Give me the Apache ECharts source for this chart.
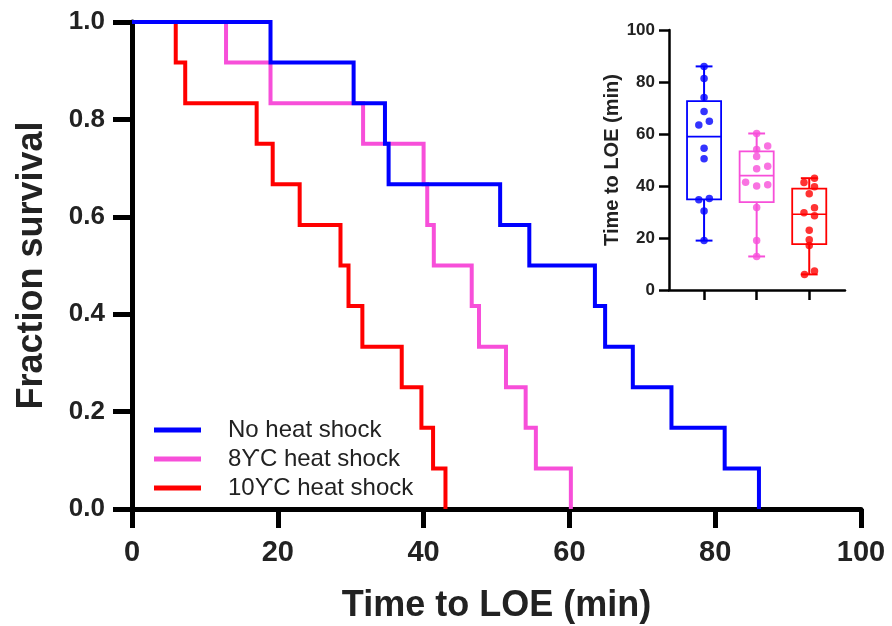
<!DOCTYPE html>
<html>
<head>
<meta charset="utf-8">
<script src="https://cdn.jsdelivr.net/npm/echarts@6/dist/echarts.min.js"></script>
<style>html,body{margin:0;padding:0;background:#fff;}#chart{width:892px;height:626px;}</style>
</head>
<body>
<div id="chart"></div>
<script>
// ---- data (minutes to loss of equilibrium, per animal) ----
const groupNames = ['No heat shock', '8\u03D2C heat shock', '10\u03D2C heat shock'];
const timesNoShock = [19.0, 30.4, 34.7, 35.2, 50.5, 54.5, 63.5, 64.9, 68.7, 74.0, 81.3, 86.0];
const times8C      = [12.9, 19.0, 31.7, 40.0, 40.5, 41.4, 46.6, 47.6, 51.3, 54.0, 55.4, 60.2];
const times10C     = [6.0, 7.3, 17.1, 19.3, 23.0, 28.6, 29.7, 31.6, 37.0, 39.7, 41.3, 43.0];
// horizontal jitter of the inset dots (category units), same order as the times
const jitterNoShock = [0, 0, -0.1, 0.1, 0, 0, -0.1, 0.1, 0, 0, 0, 0];
const jitter8C      = [0, 0, 0, 0, 0.21, -0.21, 0, 0.21, 0, 0, 0.21, 0];
const jitter10C     = [-0.09, 0.1, 0, 0, 0, 0.1, -0.1, 0.1, 0, 0.1, -0.1, 0.1];
const groupColors = ['#0000ff', '#f74fd9', '#ff0000'];

const groups = [timesNoShock, times8C, times10C];
const jitters = [jitterNoShock, jitter8C, jitter10C];
const FONT = 'Liberation Sans, Arial, Helvetica, sans-serif';

function survivalSteps(times) {
  const n = times.length;
  const s = times.slice().sort((a, b) => a - b);
  const pts = [[0, 1]];
  s.forEach((t, i) => pts.push([t, (n - i - 1) / n]));
  return pts;
}
function pct(sorted, p) {
  const r = p * (sorted.length + 1);
  const lo = Math.floor(r), f = r - lo;
  if (lo < 1) return sorted[0];
  if (lo >= sorted.length) return sorted[sorted.length - 1];
  return sorted[lo - 1] + f * (sorted[lo] - sorted[lo - 1]);
}
const boxData = groups.map((g, i) => {
  const s = g.slice().sort((a, b) => a - b);
  return [i + 1, s[0], pct(s, 0.25), pct(s, 0.5), pct(s, 0.75), s[s.length - 1]];
});

const chart = echarts.init(document.getElementById('chart'), null, {renderer: 'canvas'});

const lineSeries = [2, 1, 0].map(i => ({
  name: groupNames[i],
  type: 'line',
  step: 'end',
  xAxisIndex: 0, yAxisIndex: 0,
  data: survivalSteps(groups[i]),
  showSymbol: false,
  clip: false,
  color: groupColors[i],
  lineStyle: {width: 4, color: groupColors[i], join: 'miter'},
  z: 3 + (2 - i)
}));

const scatterSeries = groups.map((g, i) => ({
  type: 'scatter',
  xAxisIndex: 1, yAxisIndex: 1,
  data: g.map((v, k) => [i + 1 + jitters[i][k], v]),
  symbolSize: 7.5,
  itemStyle: {color: groupColors[i]},
  z: 6
}));

const boxSeries = {
  type: 'custom',
  xAxisIndex: 1, yAxisIndex: 1,
  data: boxData,
  encode: {x: 0, y: [1, 2, 3, 4, 5]},
  z: 5,
  renderItem: function (params, api) {
    const x = api.value(0);
    const mn = api.value(1), q1 = api.value(2), md = api.value(3), q3 = api.value(4), mx = api.value(5);
    const c = groupColors[params.dataIndex];
    const hw = 0.324, cw = 0.16;
    const pTL = api.coord([x - hw, q3]);
    const pBR = api.coord([x + hw, q1]);
    const st = {stroke: c, lineWidth: 1.8, fill: null};
    const line = (a, b, w) => ({type: 'line', shape: {x1: a[0], y1: a[1], x2: b[0], y2: b[1]}, style: {stroke: c, lineWidth: w}});
    return {
      type: 'group',
      children: [
        {type: 'rect', shape: {x: pTL[0], y: pTL[1], width: pBR[0] - pTL[0], height: pBR[1] - pTL[1]}, style: st},
        line(api.coord([x - hw, md]), api.coord([x + hw, md]), 1.6),
        line(api.coord([x, q3]), api.coord([x, mx]), 2),
        line(api.coord([x, q1]), api.coord([x, mn]), 2),
        line(api.coord([x - cw, mx]), api.coord([x + cw, mx]), 2),
        line(api.coord([x - cw, mn]), api.coord([x + cw, mn]), 2)
      ]
    };
  }
};

const option = {
  backgroundColor: '#fff',
  animation: false,
  textStyle: {fontFamily: FONT},
  grid: [
    {left: 132, right: 31, top: 22, bottom: 117, containLabel: false, outerBoundsMode: 'none'},
    {left: 669, width: 176, top: 30, height: 260, containLabel: false, outerBoundsMode: 'none'}
  ],
  legend: {
    data: groupNames,
    orient: 'vertical',
    left: 149, top: 413,
    itemWidth: 47, itemHeight: 5,
    icon: 'rect',
    itemGap: 5,
    selectedMode: false,
    textStyle: {fontFamily: FONT, fontSize: 24, color: '#222', padding: [0, 0, 0, 22]}
  },
  xAxis: [
    {
      gridIndex: 0, type: 'value', min: 0, max: 100, interval: 20,
      name: 'Time to LOE (min)', nameLocation: 'middle', nameGap: 79,
      nameTextStyle: {fontFamily: FONT, fontSize: 36, fontWeight: 'bold', color: '#222'},
      axisLine: {show: true, onZero: false, lineStyle: {color: '#000', width: 5}},
      axisTick: {show: true, length: 19, lineStyle: {color: '#000', width: 5}},
      axisLabel: {fontFamily: FONT, fontSize: 29, fontWeight: 'bold', color: '#222', margin: 29},
      splitLine: {show: false}
    },
    {
      gridIndex: 1, type: 'value', min: 0.333, max: 3.68,
      axisLine: {show: true, onZero: false, lineStyle: {color: '#000', width: 2.5}},
      axisTick: {show: true, length: 10, lineStyle: {color: '#000', width: 2.5}, customValues: [1, 2, 3]},
      axisLabel: {show: false, customValues: [1, 2, 3]},
      splitLine: {show: false}
    }
  ],
  yAxis: [
    {
      gridIndex: 0, type: 'value', min: 0, max: 1, interval: 0.2,
      name: 'Fraction survival', nameLocation: 'middle', nameGap: 82, nameRotate: 90,
      nameTextStyle: {fontFamily: FONT, fontSize: 36, fontWeight: 'bold', color: '#222'},
      axisLine: {show: true, onZero: false, lineStyle: {color: '#000', width: 5}},
      axisTick: {show: true, length: 19, lineStyle: {color: '#000', width: 5}},
      axisLabel: {fontFamily: FONT, fontSize: 26, fontWeight: 'bold', color: '#222', margin: 27,
        formatter: v => v.toFixed(1)},
      splitLine: {show: false}
    },
    {
      gridIndex: 1, type: 'value', min: 0, max: 100, interval: 20,
      name: 'Time to LOE (min)', nameLocation: 'middle', nameGap: 46, nameRotate: 90,
      nameTextStyle: {fontFamily: FONT, fontSize: 20, fontWeight: 'bold', color: '#222'},
      axisLine: {show: true, onZero: false, lineStyle: {color: '#000', width: 2.5}},
      axisTick: {show: true, length: 10, lineStyle: {color: '#000', width: 2.5}},
      axisLabel: {fontFamily: FONT, fontSize: 17, fontWeight: 'bold', color: '#222', margin: 14},
      splitLine: {show: false}
    }
  ],
  series: [...lineSeries, boxSeries, ...scatterSeries]
};
chart.setOption(option);
</script>
</body>
</html>
